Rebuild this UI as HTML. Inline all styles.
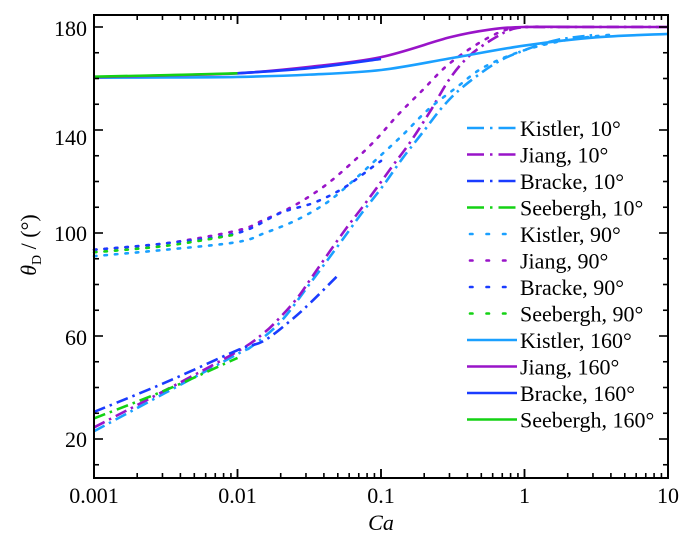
<!DOCTYPE html>
<html><head><meta charset="utf-8"><style>
html,body{margin:0;padding:0;background:#fff;font-family:"Liberation Serif","Times New Roman",Times,"DejaVu Serif",serif;}
svg{display:block;}
svg text{font-family:"Liberation Serif","Times New Roman",Times,"DejaVu Serif",serif !important;}
</style></head><body>
<svg id="s" width="700" height="538" viewBox="0 0 700 538" xmlns="http://www.w3.org/2000/svg" style="font-family:'Liberation Serif','Times New Roman',serif">
<rect width="700" height="538" fill="#fff"/>
<g id="curves" fill="none" stroke-width="2.6"></g>
<rect x="94" y="15" width="574" height="463" fill="none" stroke="#000" stroke-width="2"/>
<g id="ticks" stroke="#000" stroke-width="1.6"></g>
<g font-size="22" fill="#000" text-anchor="end" style="font-family:'Liberation Serif','Times New Roman',serif">
<text x="87" y="36">180</text><text x="87" y="145">140</text><text x="87" y="241">100</text>
<text x="87" y="345">60</text><text x="87" y="447">20</text>
</g>
<g font-size="22" fill="#000" text-anchor="middle" style="font-family:'Liberation Serif','Times New Roman',serif">
<text x="94" y="503">0.001</text><text x="237.5" y="503">0.01</text><text x="381" y="503">0.1</text>
<text x="524.5" y="503">1</text><text x="668" y="503">10</text>
<text x="381" y="530" font-style="italic">Ca</text>
</g>
<text transform="translate(36,245) rotate(-90)" font-size="22" text-anchor="middle" style="font-family:'Liberation Serif','Times New Roman',serif"><tspan font-style="italic">θ</tspan><tspan font-size="14" dy="5">D</tspan><tspan dy="-5"> / (°)</tspan></text>
<g id="legend" font-size="22" style="font-family:'Liberation Serif','Times New Roman',serif"></g>
</svg>
<script>
var L=94,R=668,dec=(R-L)/4;
function X(lg){return L+(lg+3)*dec;}
function Y(v){return 439-(v-20)*2.575;}
var NS="http://www.w3.org/2000/svg";
function el(p,t,a){var e=document.createElementNS(NS,t);for(var k in a)e.setAttribute(k,a[k]);p.appendChild(e);return e;}
var tk=document.getElementById('ticks');
for(var v=10;v<=180;v+=10){var y=Y(v),len=(v%40==20)?9:5;
el(tk,'line',{x1:L,y1:y,x2:L+len,y2:y});el(tk,'line',{x1:R,y1:y,x2:R-len,y2:y});}
for(var d=-3;d<1;d++){for(var m=1;m<=10;m++){var x=X(d+Math.log10(m));var len=(m==1||m==10)?9:5;
el(tk,'line',{x1:x,y1:478,x2:x,y2:478-len});el(tk,'line',{x1:x,y1:15,x2:x,y2:15+len});}}
var C={K:'#1aa0ff',J:'#9914c8',B:'#1a3cff',S:'#14d214'};
function path(pts){var p=pts.map(function(q){return[X(q[0]),Y(q[1])];});
var s='M'+p[0][0]+','+p[0][1];
for(var i=0;i<p.length-1;i++){var p0=p[i-1]||p[i],p1=p[i],p2=p[i+1],p3=p[i+2]||p2;
s+=' C'+(p1[0]+(p2[0]-p0[0])/6)+','+(p1[1]+(p2[1]-p0[1])/6)+' '+(p2[0]-(p3[0]-p1[0])/6)+','+(p2[1]-(p3[1]-p1[1])/6)+' '+p2[0]+','+p2[1];}
return s;}
var DD='12 5 2.5 5',DT='2.5 8';
var series=[
['K',DD,[[-3,23],[-2.5,38],[-2,53],[-1.9,56],[-1.7,65.5],[-1.5,80],[-1.3,95],[-1.13,108],[-0.99,118],[-0.85,129],[-0.71,139],[-0.57,149],[-0.43,156.7],[-0.2,166],[0,171],[0.23,175],[0.5,177]]],
['J',DD,[[-3,24.5],[-2.5,39],[-2,54],[-1.82,61],[-1.7,67.4],[-1.58,75],[-1.48,83],[-1.36,92.6],[-1.24,102],[-1.13,110],[-1.03,117.5],[-0.92,126],[-0.8,135],[-0.66,147],[-0.52,160],[-0.38,169],[-0.2,176],[-0.05,179.6],[0.2,180],[1,180]]],
['B',DD,[[-3,30.5],[-2.5,42],[-2,54.5],[-1.82,58],[-1.63,66],[-1.49,73],[-1.31,83]]],
['S',DD,[[-3,28],[-2.5,39],[-2,51.5]]],
['K',DT,[[-3,91],[-2.5,93.5],[-2,96.5],[-1.81,100],[-1.59,105],[-1.38,111.7],[-1.2,120],[-1.03,128.7],[-0.85,138],[-0.67,148],[-0.47,156.7],[-0.28,164.5],[0,171],[0.3,175],[0.6,177]]],
['J',DT,[[-3,93.5],[-2.5,96],[-2,101],[-1.82,105],[-1.61,110.5],[-1.4,118],[-1.22,126.4],[-1.04,136],[-0.88,146],[-0.71,155.5],[-0.54,165],[-0.34,173],[-0.15,178.5],[0,180],[0.3,180]]],
['B',DT,[[-3,93.5],[-2.5,96],[-2,100],[-1.7,107.8],[-1.47,111.7],[-1.26,117.5],[-1.06,125.6],[-1.0,128]]],
['S',DT,[[-3,92.5],[-2.5,95],[-2,99.5]]],
['K','',[[-3,160.3],[-2.5,160.4],[-2,160.6],[-1.5,161.5],[-1,163.3],[-0.5,168],[0,172.8],[0.5,176],[1,177.3]]],
['J','',[[-3,160.5],[-2.5,161.2],[-2,162],[-1.5,164.5],[-1,168.3],[-0.52,176],[-0.24,179],[0,180],[0.5,180],[1,180]]],
['B','',[[-2,162],[-1.5,164],[-1,167.6]]],
['S','',[[-3,160.7],[-2.5,161.3],[-2,162]]]
];
var cg=document.getElementById('curves');
series.forEach(function(s){var a={d:path(s[2]),stroke:C[s[0]]};if(s[1]){a['stroke-dasharray']=s[1];}if(s[1]==DT)a['stroke-linecap']='round';el(cg,'path',a);});
var names=['Kistler, 10°','Jiang, 10°','Bracke, 10°','Seebergh, 10°','Kistler, 90°','Jiang, 90°','Bracke, 90°','Seebergh, 90°','Kistler, 160°','Jiang, 160°','Bracke, 160°','Seebergh, 160°'];
var lg=document.getElementById('legend');
names.forEach(function(n,i){var y=128+i*26.5;var s=series[i];
var a={x1:467,y1:y,x2:517,y2:y,stroke:C[s[0]],'stroke-width':2.6};
if(s[1]==DD)a['stroke-dasharray']='17 6 2.5 6';if(s[1]==DT){a['stroke-dasharray']='2.5 14';a['stroke-linecap']='round';a.x1=470;}
el(lg,'line',a);var t=el(lg,'text',{x:520,y:y+8});t.textContent=n;});
</script>
</body></html>
